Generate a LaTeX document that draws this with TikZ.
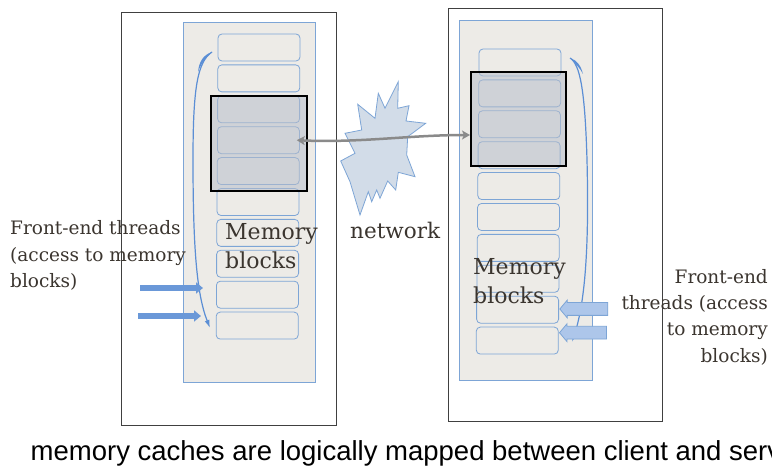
\documentclass[tikz,border=0pt]{standalone}
\usepackage{fontspec}
\setmainfont{DejaVu Serif}
\newfontfamily\capfont{Liberation Sans}
\usetikzlibrary{arrows.meta,shapes.arrows}
\definecolor{panelgray}{HTML}{EDEBE7}
\definecolor{blkblue}{HTML}{7DA5D6}
\definecolor{selgray}{HTML}{B8BECA}
\definecolor{threadblue}{HTML}{5B8ED5}
\definecolor{feedblue}{HTML}{6A98D8}
\definecolor{burst}{HTML}{D2DCE8}
\definecolor{netgray}{HTML}{8A8A8A}
\definecolor{ink}{HTML}{3B352F}
\begin{document}
\begin{tikzpicture}[x=1pt, y=-1pt,
    memblk/.style={draw=blkblue, fill=panelgray, rounded corners=4pt, line width=0.8pt,
      minimum width=82pt, minimum height=27pt, inner sep=0pt},
    selbox/.style={draw=black, line width=2pt, fill=selgray, fill opacity=0.55, inner sep=0pt},
    thread/.style={threadblue, line width=1.2pt, -{Latex[length=8pt,width=5pt]}},
    feed/.style={feedblue, line width=5.5pt, -{Triangle[length=7pt,width=11pt]}},
    inarrow/.style={single arrow, shape border rotate=180, draw=blkblue, fill=feedblue!55,
      line width=0.8pt, inner xsep=0pt, inner ysep=6pt, single arrow head extend=2.5pt,
      single arrow tip angle=100},
    net/.style={netgray, line width=2.5pt, {Stealth[length=8pt,width=9pt,inset=2pt]}-{Stealth[length=8pt,width=9pt,inset=2pt]}},
    lbl/.style={text=ink, font=\fontsize{18.5}{26.3}\selectfont, inner sep=0pt},
    biglbl/.style={text=ink, font=\fontsize{22}{29}\selectfont, inner sep=0pt}]
  \clip (0,0) rectangle (772,470);
  \fill[white] (0,0) rectangle (772,470);
  % client and server frames
  \draw[black!75, line width=0.9pt] (121,12) rectangle (336,425);
  \draw[black!75, line width=0.9pt] (448,8) rectangle (662,421);
  \draw[blkblue, fill=panelgray, line width=0.8pt] (183,22) rectangle (315,382);
  \draw[blkblue, fill=panelgray, line width=0.8pt] (459,20) rectangle (592,380);
  % memory blocks
  \foreach \i in {1,...,10} {
    \node[memblk] (l\i) at ({259-0.2*(\i-1)}, {47.5+30.9*(\i-1)}) {};
    \node[memblk] (r\i) at ({520-0.3*(\i-1)}, {62.5+30.9*(\i-1)}) {};
  }
  \node[selbox, minimum width=96pt, minimum height=95pt] (lsel) at (259,143.5) {};
  \node[selbox, minimum width=95pt, minimum height=94pt] (rsel) at (518.5,119) {};
  % front-end threads
  \coordinate (ltop) at (212,52);
  \coordinate (lbot) at (210,328);
  \fill[threadblue] (ltop) .. controls (203,55) and (199,62) .. (198,72) .. controls (201,64) and (205,58) .. (ltop);
  \draw[thread] (ltop) .. controls (197,62) and (193,90) .. (193,160) .. controls (193,250) and (197,295) .. (lbot);
  \coordinate (rtop) at (570,58);
  \coordinate (rbot) at (572,342);
  \fill[threadblue] (rtop) .. controls (577,60) and (581,66) .. (583,74) .. controls (580,68) and (575,63) .. (rtop);
  \draw[thread] (rtop) .. controls (580,64) and (585,90) .. (587,160) .. controls (589,240) and (586,300) .. (rbot);
  \coordinate (lf1) at (140,288);
  \coordinate (lh1) at (203,288);
  \coordinate (lf2) at (138,316);
  \coordinate (lh2) at (201,316);
  \draw[feed] (lf1) -- (lh1);
  \draw[feed] (lf2) -- (lh2);
  \node[inarrow, minimum height=48pt] (ra1) at (586.5,309) {};
  \node[inarrow, minimum height=47pt] (ra2) at (585.7,332.7) {};
  % network
  \draw[blkblue, fill=burst, line width=0.8pt, line join=miter]
    (398.3,81.7) -- (397.7,108.3) -- (409,105.7) -- (406,121) -- (425.7,123.3)
    -- (407.7,136.7) -- (406.7,155) -- (415,176.7) -- (398.3,172.3) -- (395.7,190)
    -- (387.7,181) -- (380,198.3) -- (376.7,190) -- (371.7,201.7) -- (368.3,191.7)
    -- (360,215) -- (350,181.7) -- (340.7,161) -- (355,153.3) -- (345,133.3)
    -- (361.7,130) -- (357.7,104.3) -- (375,118.3) -- (378.3,93.3) -- (385,108.3) -- cycle;
  \draw[net] ([xshift=-3pt]l4.east) .. controls (360,143) and (410,135) .. ([yshift=-16pt]rsel.west);
  % labels
  \node[lbl, anchor=north west, align=left] (lthr) at (10,220.5) {Front-end threads\\(access to memory\\blocks)};
  \node[lbl, anchor=north east, align=right] (rthr) at (768,269) {Front-end\\threads (access\\to memory\\blocks)};
  \node[biglbl, anchor=north west, align=left] (lmem) at (225,223) {Memory\\blocks};
  \node[biglbl, anchor=north west, align=left] (rmem) at (473,258) {Memory\\blocks};
  \node[anchor=base west, text=ink, font=\fontsize{21.5}{26}\selectfont, inner sep=0pt] (netlbl) at (350,239) {network};
  \node[anchor=base west, inner sep=0pt, font=\capfont\fontsize{27.5}{30}\selectfont] (cap) at (30.5,461)
    {memory caches are logically mapped between client and server};
\end{tikzpicture}
\end{document}
